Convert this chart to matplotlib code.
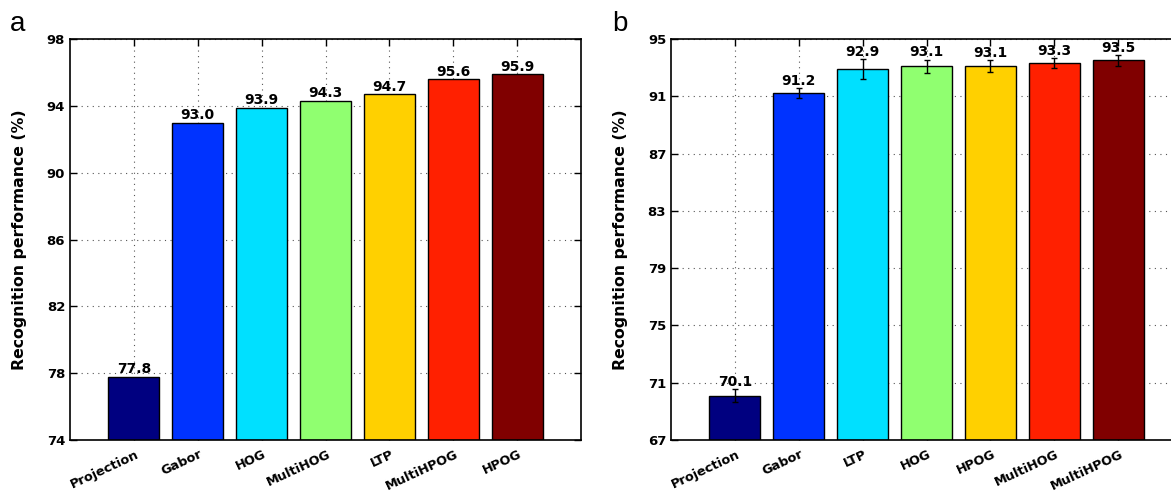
import numpy as np
import matplotlib
matplotlib.use("Agg")
import matplotlib.pyplot as plt
from matplotlib.transforms import ScaledTranslation

plt.rcParams['font.family'] = ['DejaVu Sans']

# panel a
methods_a = ["Projection", "Gabor", "HOG", "MultiHOG", "LTP", "MultiHPOG", "HPOG"]
values_a = [77.8, 93.0, 93.9, 94.3, 94.7, 95.6, 95.9]

# panel b
methods_b = ["Projection", "Gabor", "LTP", "HOG", "HPOG", "MultiHOG", "MultiHPOG"]
values_b = [70.1, 91.2, 92.9, 93.1, 93.1, 93.3, 93.5]
errors_b = [0.43, 0.35, 0.67, 0.45, 0.40, 0.34, 0.36]

bar_colors = ["#000080", "#0033ff", "#00e0ff", "#90ff70", "#ffd000", "#ff2000", "#800000"]


def style_axes(fig, ax, yticks, names):
    ax.set_xlim(0, 8)
    ax.set_ylim(yticks[0], yticks[-1])
    ax.set_yticks(yticks)
    ax.set_xticks(np.arange(1, len(names) + 1))
    ax.set_axisbelow(True)
    ax.grid(True, linestyle=(0, (1, 4)), color="#555555", linewidth=0.8)
    ax.tick_params(direction="in", top=True, right=True, length=5, width=1,
                   labelsize=9.5)
    ax.set_xticklabels(names, rotation=25, ha="right", fontsize=9.3,
                       fontweight="bold")
    # matlab puts the end of the rotated label a bit right of the tick
    shift = ScaledTranslation(5 / 72, -2 / 72, fig.dpi_scale_trans)
    for lbl in ax.get_xticklabels():
        lbl.set_transform(lbl.get_transform() + shift)
    for lbl in ax.get_yticklabels():
        lbl.set_fontweight("bold")
    for s in ax.spines.values():
        s.set_linewidth(1.2)
    ax.set_ylabel("Recognition performance (%)", fontsize=11.3,
                  fontweight="bold", labelpad=14)


fig = plt.figure(figsize=(11.71, 4.94), dpi=100)
ax_a = fig.add_axes([70 / 1171, 54 / 494, 511 / 1171, 401 / 494])
ax_b = fig.add_axes([671 / 1171, 54 / 494, 511 / 1171, 401 / 494])

x = np.arange(1, 8)

ax_a.bar(x, np.array(values_a) - 74, bottom=74, width=0.8, color=bar_colors,
         edgecolor="black", linewidth=1)
style_axes(fig, ax_a, np.arange(74, 99, 4), methods_a)
for xi, v in zip(x, values_a):
    ax_a.text(xi, v + 0.03, f"{v:.1f}", ha="center", va="bottom",
              fontsize=10, fontweight="bold")

ax_b.bar(x, np.array(values_b) - 67, bottom=67, width=0.8, color=bar_colors,
         edgecolor="black", linewidth=1)
ax_b.errorbar(x, values_b, yerr=errors_b, fmt="none", ecolor="black",
              elinewidth=1, capsize=2.5, capthick=1)
style_axes(fig, ax_b, np.arange(67, 96, 4), methods_b)
for xi, v, e in zip(x, values_b, errors_b):
    ax_b.text(xi, v + e + 0.03, f"{v:.1f}", ha="center", va="bottom",
              fontsize=10, fontweight="bold")

fig.text(10 / 1171, 1 - 31 / 494, "a", fontsize=20, family="Liberation Sans")
fig.text(612 / 1171, 1 - 31 / 494, "b", fontsize=20, family="Liberation Sans")

fig.savefig("out.png", dpi=100)
